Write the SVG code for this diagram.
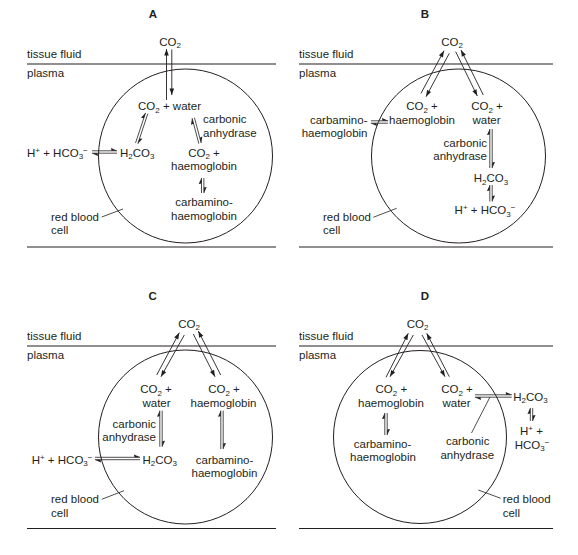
<svg xmlns="http://www.w3.org/2000/svg" width="578" height="555" viewBox="0 0 578 555">
<style>
.t{font-family:"Liberation Sans",Arial,sans-serif;font-size:11.5px;fill:#231f20}
.m{text-anchor:middle}.e{text-anchor:end}
.s{font-size:8px}
.b{font-weight:bold}
.ln{stroke:#231f20;stroke-width:1.2;fill:none}
.c{stroke:#231f20;stroke-width:1;fill:none}
.a{stroke:#231f20;stroke-width:0.9;fill:none;marker-end:url(#arr)}
.h{stroke:#231f20;stroke-width:0.8;fill:none;marker-end:url(#barb)}
.ld{stroke:#231f20;stroke-width:0.8;fill:none}
</style>
<defs>
<marker id="arr" viewBox="-7 -4 8 8" refX="0" refY="0" markerWidth="8" markerHeight="8" markerUnits="userSpaceOnUse" orient="auto" overflow="visible">
<path d="M0,0 L-6.5,-2.3 L-6.5,2.3 Z" fill="#231f20"/>
</marker>
<marker id="barb" viewBox="-7 -4 8 8" refX="0" refY="0" markerWidth="8" markerHeight="8" markerUnits="userSpaceOnUse" orient="auto" overflow="visible">
<path d="M0.3,0 L-6,-2.8 L-5.5,0 Z" fill="#231f20"/>
</marker>
</defs>
<rect width="578" height="555" fill="#fff"/>

<!-- Panel A -->
<g id="panelA">
<text class="t m b" x="153" y="17.5">A</text>
<line class="ln" x1="27" y1="64" x2="276" y2="64"/>
<line class="ln" x1="27" y1="247" x2="276" y2="247"/>
<g id="A-tissue"><text class="t" x="27" y="57.5">tissue fluid</text></g>
<g id="A-plasma"><text class="t" x="27" y="76.5">plasma</text></g>
<g id="A-cell"><circle class="c" cx="185.5" cy="156" r="87"/></g>
<g id="A-co2"><text class="t m" x="170" y="45.5">CO<tspan class="s" dy="2.5">2</tspan></text></g>
<g id="A-co2water"><text class="t m" x="169.5" y="110.3">CO<tspan class="s" dy="2.5">2</tspan><tspan dy="-2.5"> + water</tspan></text></g>
<g id="A-ca"><text class="t" x="203" y="123">carbonic</text><text class="t" x="203" y="136.5">anhydrase</text></g>
<g id="A-hhco3"><text class="t" x="27" y="156.5">H<tspan class="s" dy="-4">+</tspan><tspan dy="4"> + HCO</tspan><tspan class="s" dy="2.5">3</tspan><tspan class="s" dy="-6.5">−</tspan></text></g>
<g id="A-h2co3"><text class="t" x="120" y="156.5">H<tspan class="s" dy="2.5">2</tspan><tspan dy="-2.5">CO</tspan><tspan class="s" dy="2.5">3</tspan></text></g>
<g id="A-co2hb"><text class="t m" x="204" y="156.5">CO<tspan class="s" dy="2.5">2</tspan><tspan dy="-2.5"> +</tspan></text><text class="t m" x="204" y="169.8">haemoglobin</text></g>
<g id="A-carb"><text class="t m" x="204" y="206">carbamino-</text><text class="t m" x="204" y="219.8">haemoglobin</text></g>
<g id="A-rbc"><text class="t" x="51" y="220.7">red blood</text><text class="t" x="51" y="234">cell</text></g>
</g>

<!-- Panel B -->
<g id="panelB">
<text class="t m b" x="425" y="17.5">B</text>
<line class="ln" x1="299" y1="64" x2="553" y2="64"/>
<line class="ln" x1="299" y1="247" x2="553" y2="247"/>
<g id="B-tissue"><text class="t" x="299" y="57.5">tissue fluid</text></g>
<g id="B-plasma"><text class="t" x="299" y="76.5">plasma</text></g>
<g id="B-cell"><circle class="c" cx="458.5" cy="156" r="87"/></g>
<g id="B-co2"><text class="t m" x="452" y="45.5">CO<tspan class="s" dy="2.5">2</tspan></text></g>
<g id="B-co2hb"><text class="t m" x="422" y="110.3">CO<tspan class="s" dy="2.5">2</tspan><tspan dy="-2.5"> +</tspan></text><text class="t m" x="422" y="124">haemoglobin</text></g>
<g id="B-co2water"><text class="t m" x="487" y="110.3">CO<tspan class="s" dy="2.5">2</tspan><tspan dy="-2.5"> +</tspan></text><text class="t m" x="486.5" y="124">water</text></g>
<g id="B-carb"><text class="t e" x="367.5" y="124">carbamino-</text><text class="t e" x="367.5" y="137">haemoglobin</text></g>
<g id="B-ca"><text class="t e" x="487" y="146.5">carbonic</text><text class="t e" x="487" y="159.5">anhydrase</text></g>
<g id="B-h2co3"><text class="t m" x="491" y="182">H<tspan class="s" dy="2.5">2</tspan><tspan dy="-2.5">CO</tspan><tspan class="s" dy="2.5">3</tspan></text></g>
<g id="B-hhco3"><text class="t m" x="485" y="214">H<tspan class="s" dy="-4">+</tspan><tspan dy="4"> + HCO</tspan><tspan class="s" dy="2.5">3</tspan><tspan class="s" dy="-6.5">−</tspan></text></g>
<g id="B-rbc"><text class="t" x="323" y="221">red blood</text><text class="t" x="323" y="234">cell</text></g>
</g>

<!-- Panel C -->
<g id="panelC">
<text class="t m b" x="152.7" y="299.5">C</text>
<line class="ln" x1="27" y1="346" x2="276" y2="346"/>
<line class="ln" x1="27" y1="528.5" x2="276" y2="528.5"/>
<g id="C-tissue"><text class="t" x="27" y="340">tissue fluid</text></g>
<g id="C-plasma"><text class="t" x="27" y="358.5">plasma</text></g>
<g id="C-cell"><circle class="c" cx="185.5" cy="437" r="87"/></g>
<g id="C-co2"><text class="t m" x="189" y="327.5">CO<tspan class="s" dy="2.5">2</tspan></text></g>
<g id="C-co2water"><text class="t m" x="156" y="393">CO<tspan class="s" dy="2.5">2</tspan><tspan dy="-2.5"> +</tspan></text><text class="t m" x="156.5" y="406.5">water</text></g>
<g id="C-co2hb"><text class="t m" x="224" y="393">CO<tspan class="s" dy="2.5">2</tspan><tspan dy="-2.5"> +</tspan></text><text class="t m" x="223.5" y="406.5">haemoglobin</text></g>
<g id="C-ca"><text class="t e" x="156" y="428">carbonic</text><text class="t e" x="156" y="441.2">anhydrase</text></g>
<g id="C-h2co3"><text class="t m" x="159.7" y="463.5">H<tspan class="s" dy="2.5">2</tspan><tspan dy="-2.5">CO</tspan><tspan class="s" dy="2.5">3</tspan></text></g>
<g id="C-hhco3"><text class="t" x="31.7" y="463.5">H<tspan class="s" dy="-4">+</tspan><tspan dy="4"> + HCO</tspan><tspan class="s" dy="2.5">3</tspan><tspan class="s" dy="-6.5">−</tspan></text></g>
<g id="C-carb"><text class="t m" x="224.5" y="463.5">carbamino-</text><text class="t m" x="224.5" y="477">haemoglobin</text></g>
<g id="C-rbc"><text class="t" x="51" y="503">red blood</text><text class="t" x="51" y="516.5">cell</text></g>
</g>

<!-- Panel D -->
<g id="panelD">
<text class="t m b" x="425" y="299.5">D</text>
<line class="ln" x1="299" y1="346" x2="553" y2="346"/>
<line class="ln" x1="299" y1="528.5" x2="553" y2="528.5"/>
<g id="D-tissue"><text class="t" x="299" y="340">tissue fluid</text></g>
<g id="D-plasma"><text class="t" x="299" y="358.5">plasma</text></g>
<g id="D-cell"><circle class="c" cx="420" cy="437" r="86.5"/></g>
<g id="D-co2"><text class="t m" x="417.5" y="327.5">CO<tspan class="s" dy="2.5">2</tspan></text></g>
<g id="D-co2hb"><text class="t m" x="391.3" y="393.3">CO<tspan class="s" dy="2.5">2</tspan><tspan dy="-2.5"> +</tspan></text><text class="t m" x="391" y="407">haemoglobin</text></g>
<g id="D-co2water"><text class="t m" x="457" y="393.3">CO<tspan class="s" dy="2.5">2</tspan><tspan dy="-2.5"> +</tspan></text><text class="t m" x="456.5" y="407">water</text></g>
<g id="D-h2co3"><text class="t m" x="530.5" y="400.8">H<tspan class="s" dy="2.5">2</tspan><tspan dy="-2.5">CO</tspan><tspan class="s" dy="2.5">3</tspan></text></g>
<g id="D-hhco3"><text class="t m" x="531.5" y="434.5">H<tspan class="s" dy="-4">+</tspan><tspan dy="4"> +</tspan></text><text class="t m" x="532" y="448.5">HCO<tspan class="s" dy="2.5">3</tspan><tspan class="s" dy="-6.5">−</tspan></text></g>
<g id="D-carb"><text class="t m" x="382.5" y="447.7">carbamino-</text><text class="t m" x="383" y="461.2">haemoglobin</text></g>
<g id="D-ca"><text class="t m" x="467.7" y="444.7">carbonic</text><text class="t m" x="467.3" y="458.5">anhydrase</text></g>
<g id="D-rbc"><text class="t" x="502.7" y="503">red blood</text><text class="t" x="502.7" y="516.5">cell</text></g>
</g>

<!-- Connectors -->
<g id="connectors">
<!-- A -->
<line class="a" x1="166.5" y1="100" x2="166.5" y2="49"/>
<line class="a" x1="171.8" y1="49.5" x2="171.8" y2="95"/>
<line class="h" x1="135.56" y1="142.92" x2="145.56" y2="112.92"/>
<line class="h" x1="147.84" y1="113.68" x2="137.84" y2="143.68"/>
<line class="h" x1="198.84" y1="143.61" x2="192.14" y2="118.31"/>
<line class="h" x1="194.46" y1="117.69" x2="201.16" y2="142.99"/>
<line class="h" x1="92" y1="150.8" x2="117" y2="150.8"/>
<line class="h" x1="117" y1="153.2" x2="92" y2="153.2"/>
<line class="h" x1="201.5" y1="193" x2="201.5" y2="178"/>
<line class="h" x1="203.9" y1="178" x2="203.9" y2="193"/>
<line class="ld" x1="101.7" y1="217" x2="123" y2="209"/>
<!-- B -->
<line class="a" x1="421" y1="93.3" x2="444" y2="50.7"/>
<line class="a" x1="449.3" y1="53.3" x2="426" y2="96.7"/>
<line class="a" x1="455.7" y1="51.7" x2="477.3" y2="96"/>
<line class="a" x1="483.3" y1="95" x2="461" y2="50"/>
<line class="h" x1="371" y1="120.8" x2="388" y2="120.8"/>
<line class="h" x1="388" y1="123.2" x2="371" y2="123.2"/>
<line class="h" x1="489.8" y1="168" x2="489.8" y2="129"/>
<line class="h" x1="492.2" y1="129" x2="492.2" y2="168"/>
<line class="h" x1="489.8" y1="201.5" x2="489.8" y2="185"/>
<line class="h" x1="492.2" y1="185" x2="492.2" y2="201.5"/>
<line class="ld" x1="373.3" y1="217.3" x2="396.7" y2="208.3"/>
<!-- C -->
<line class="a" x1="156.7" y1="375" x2="179.3" y2="332.7"/>
<line class="a" x1="184.3" y1="335" x2="161" y2="376.7"/>
<line class="a" x1="193.3" y1="334" x2="215" y2="376.7"/>
<line class="a" x1="220.7" y1="375" x2="198.3" y2="331"/>
<line class="h" x1="159.8" y1="446.7" x2="159.8" y2="410.7"/>
<line class="h" x1="162.2" y1="410.7" x2="162.2" y2="446.7"/>
<line class="h" x1="220.8" y1="449" x2="220.8" y2="410.7"/>
<line class="h" x1="223.2" y1="410.7" x2="223.2" y2="449"/>
<line class="h" x1="95" y1="457.3" x2="140" y2="457.3"/>
<line class="h" x1="140" y1="459.7" x2="95" y2="459.7"/>
<line class="ld" x1="101.7" y1="499.3" x2="124" y2="490.7"/>
<!-- D -->
<line class="a" x1="386" y1="377.3" x2="408.3" y2="333.3"/>
<line class="a" x1="413.3" y1="335" x2="390" y2="376.7"/>
<line class="a" x1="422" y1="335" x2="445" y2="376.7"/>
<line class="a" x1="449.3" y1="376.7" x2="426.7" y2="333.3"/>
<line class="h" x1="475" y1="394.8" x2="511.7" y2="394.8"/>
<line class="h" x1="511.7" y1="397.2" x2="475" y2="397.2"/>
<line class="h" x1="530.3" y1="421" x2="530.3" y2="408"/>
<line class="h" x1="532.7" y1="408" x2="532.7" y2="421"/>
<line class="h" x1="384.8" y1="435" x2="384.8" y2="413"/>
<line class="h" x1="387.2" y1="413" x2="387.2" y2="435"/>
<line class="ld" x1="471.5" y1="433" x2="490" y2="397"/>
<line class="ld" x1="478.3" y1="490" x2="500.7" y2="498.3"/>
</g>
</svg>
